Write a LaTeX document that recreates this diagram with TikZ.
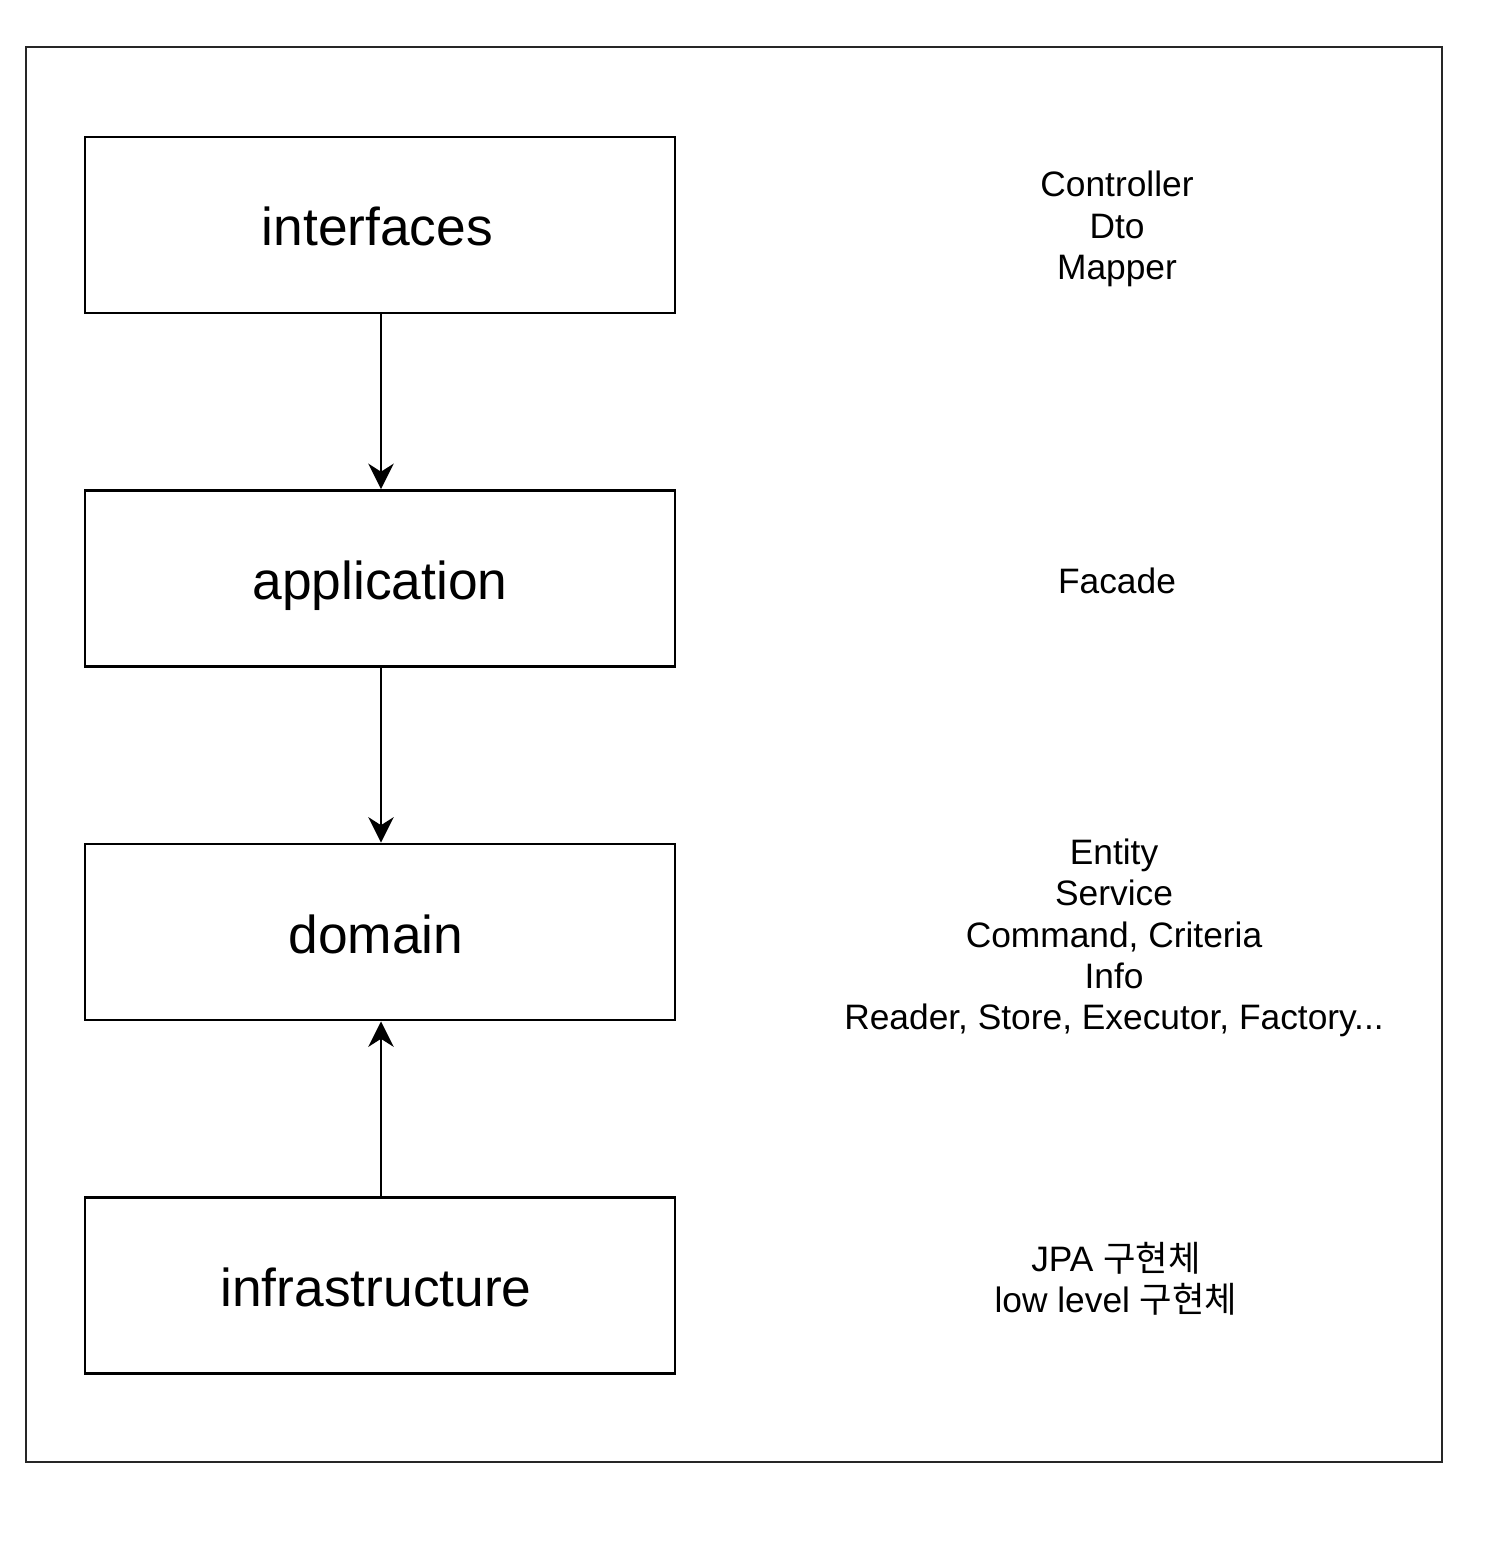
\documentclass[tikz,border=0pt]{standalone}
\usepackage{fontspec}
\setmainfont{Liberation Sans}
\newfontfamily\kr{Noto Sans CJK KR}
\usetikzlibrary{arrows.meta}
\begin{document}
\begin{tikzpicture}[x=0.75pt,y=-0.75pt,
  layer/.style={draw=black,line width=2.2pt,minimum width=442.5pt,minimum height=132pt,inner sep=0pt,text height=34pt,text depth=2.5pt,font=\fontsize{40}{48}\selectfont},
  note/.style={align=center,font=\fontsize{26.5}{31}\selectfont,inner sep=0pt},
  dep/.style={line width=2.2pt,-{Stealth[length=19pt,width=19pt,inset=6pt]}}]
\useasboundingbox (0,0) rectangle (1508,1562);
\draw[draw=black!85,line width=2.2pt] (26,47) rectangle (1442,1462);
\node[layer] (if) at (380,225) {\hspace*{-4pt}interfaces};
\node[layer] (app) at (380,578.5) {application};
\node[layer] (dom) at (380,932) {\hspace*{-6pt}domain};
\node[layer] (inf) at (380,1285.5) {\hspace*{-6pt}infrastructure};
\draw[dep] (if.south -| 381,0) -- (app.north -| 381,0);
\draw[dep] (app.south -| 381,0) -- (dom.north -| 381,0);
\draw[dep] (inf.north -| 381,0) -- (dom.south -| 381,0);
\node[note] (n1) at (1117,229) {Controller\\Dto\\Mapper};
\node[note] (n2) at (1117,581) {Facade};
\node[note] (n3) at (1114,938) {Entity\\Service\\Command, Criteria\\Info\\Reader, Store, Executor, Factory...};
\node[note] (n4) at (1116,1279) {JPA {\kr 구현체}\\low level {\kr 구현체}};
\end{tikzpicture}
\end{document}
